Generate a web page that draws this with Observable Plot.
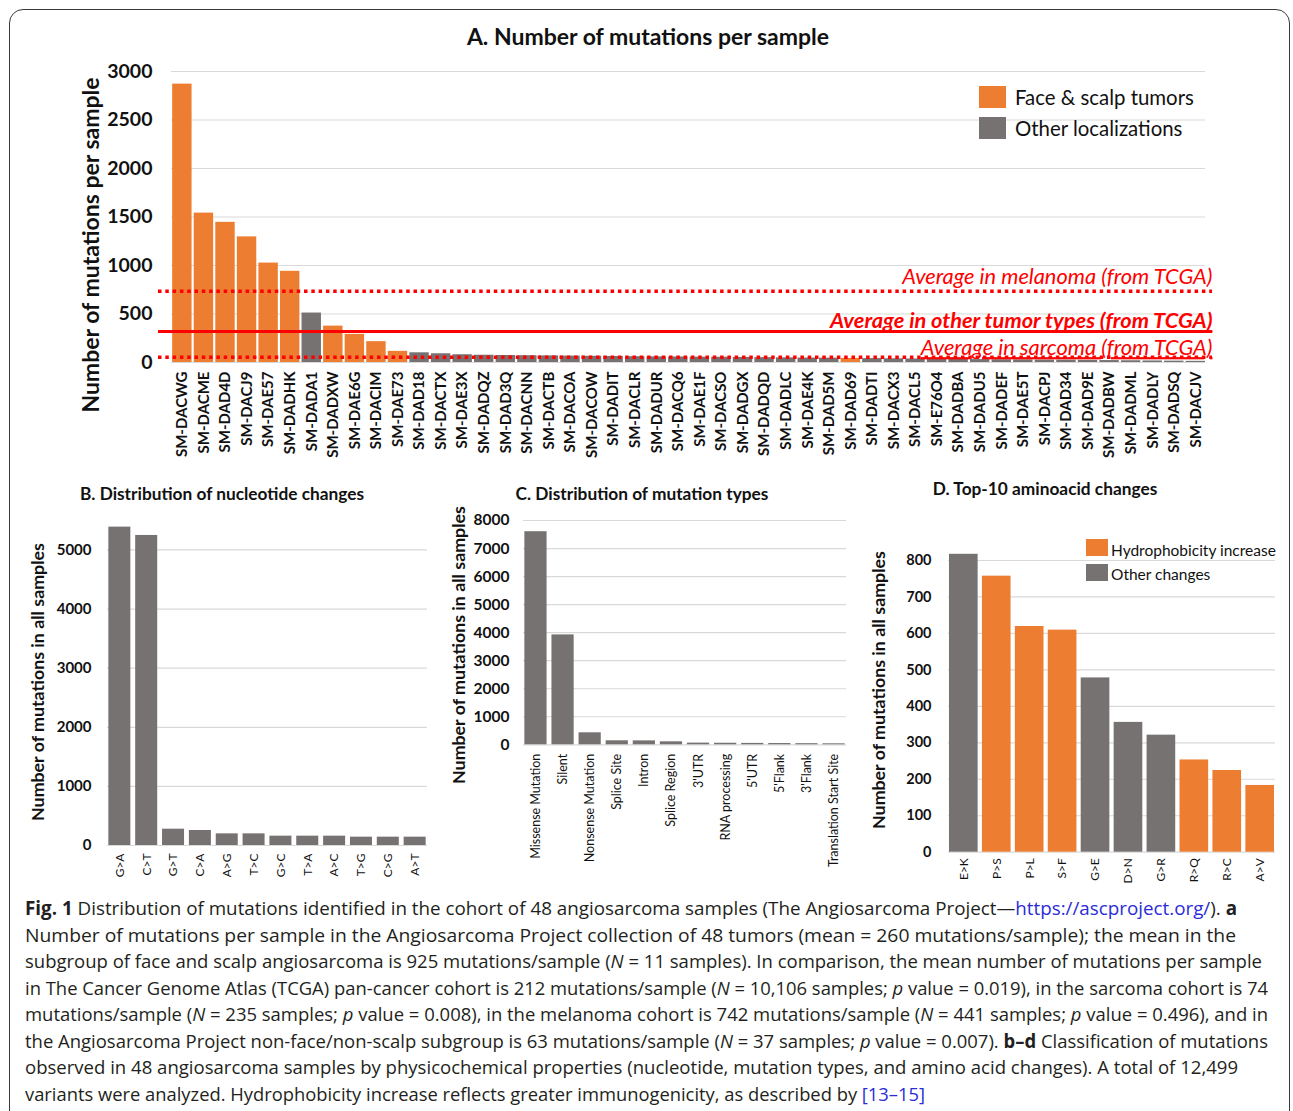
<!DOCTYPE html>
<html><head><meta charset="utf-8">
<script src="https://cdn.jsdelivr.net/npm/d3@7"></script>
<script src="https://cdn.jsdelivr.net/npm/@observablehq/plot@0.6"></script>
<style>
body{margin:0;background:#fff;}
#root{position:relative;width:1293px;height:1111px;overflow:hidden;font-family:Lato,"Open Sans",sans-serif;color:#111;}
.box{position:absolute;left:9px;top:9px;width:1279px;height:1200px;border:1.5px solid #3a3a3a;border-radius:14px;}
.plot{position:absolute;}
.title{position:absolute;font-weight:700;white-space:nowrap;transform:translate(-50%,-50%);}
.ylab{position:absolute;font-weight:700;white-space:nowrap;transform:translate(-50%,-50%) rotate(-90deg);}
.sw{position:absolute;}
.lt{position:absolute;white-space:nowrap;transform:translateY(-50%);}
#caption{position:absolute;left:25px;top:895px;font-family:"Open Sans",sans-serif;font-size:19px;line-height:26.5px;color:#231f20;}
#caption div{white-space:nowrap;height:26.5px;}
#caption span.fit{display:inline-block;transform-origin:0 50%;}
#caption a{color:#2b2bd9;text-decoration:none;}
</style></head>
<body><div id="root">
<div class="box"></div>
</div>
<script>
// ---------- DATA ----------
const samplesA = ["SM-DACWG","SM-DACME","SM-DAD4D","SM-DACJ9","SM-DAE57","SM-DADHK","SM-DADA1","SM-DADXW","SM-DAE6G","SM-DACIM","SM-DAE73","SM-DAD18","SM-DACTX","SM-DAE3X","SM-DADQZ","SM-DAD3Q","SM-DACNN","SM-DACTB","SM-DACOA","SM-DACOW","SM-DADIT","SM-DACLR","SM-DADUR","SM-DACQ6","SM-DAE1F","SM-DACSO","SM-DADGX","SM-DADQD","SM-DADLC","SM-DAE4K","SM-DAD5M","SM-DAD69","SM-DADTI","SM-DACX3","SM-DACL5","SM-E76O4","SM-DADBA","SM-DADU5","SM-DADEF","SM-DAE5T","SM-DACPJ","SM-DAD34","SM-DAD9E","SM-DADBW","SM-DADML","SM-DADLY","SM-DADSQ","SM-DACJV"];
const countsA = [2870,1540,1445,1295,1025,940,510,375,290,215,115,100,90,80,75,72,70,68,66,64,62,60,58,57,55,54,52,50,48,46,45,42,40,38,36,34,32,30,28,27,25,24,22,20,18,16,14,12];
const faceScalpSamples = ["SM-DACWG","SM-DACME","SM-DAD4D","SM-DACJ9","SM-DAE57","SM-DADHK","SM-DADXW","SM-DAE6G","SM-DACIM","SM-DAE73","SM-DAD69"];
const groupNamesA = ["Face & scalp tumors","Other localizations"];
const avgLabels = ["Average in melanoma (from TCGA)","Average in other tumor types (from TCGA)","Average in sarcoma (from TCGA)"];
const avgValues = [735, 320, 55];
const ticksA = [0,500,1000,1500,2000,2500,3000];

const nucleotides = ["G>A","C>T","G>T","C>A","A>G","T>C","G>C","T>A","A>C","T>G","C>G","A>T"];
const nucleotideCounts = [5386,5245,276,254,197,197,158,158,158,141,141,141];
const ticksB = [0,1000,2000,3000,4000,5000];

const mutTypes = ["Missense Mutation","Silent","Nonsense Mutation","Splice Site","Intron","Splice Region","3'UTR","RNA processing","5'UTR","5'Flank","3'Flank","Translation Start Site"];
const mutTypeCounts = [7600,3920,428,143,140,107,60,55,50,45,40,35];
const ticksC = [0,1000,2000,3000,4000,5000,6000,7000,8000];

const aaChanges = ["E>K","P>S","P>L","S>F","G>E","D>N","G>R","R>Q","R>C","A>V"];
const aaCounts = [817,757,619,609,478,356,321,253,224,183];
const groupNamesD = ["Hydrophobicity increase","Other changes"];
const aaGroup = ["Other changes","Hydrophobicity increase","Hydrophobicity increase","Hydrophobicity increase","Other changes","Other changes","Other changes","Hydrophobicity increase","Hydrophobicity increase","Hydrophobicity increase"];
const ticksD = [0,100,200,300,400,500,600,700,800];

// ---------- STYLE ----------
const ORANGE = "#ED7D31", GRAY = "#777272", GRID = "#d9d9d9", RED = "#ff0000";
const FONT = "Lato, 'Open Sans', sans-serif";
const root = document.getElementById("root");

function place(el, left, top){ el.classList.add("plot"); el.style.left = left+"px"; el.style.top = top+"px"; root.appendChild(el); }
function addText(cls, html, x, y, size){ const d=document.createElement("div"); d.className=cls; d.innerHTML=html; d.style.left=x+"px"; d.style.top=y+"px"; d.style.fontSize=size+"px"; root.appendChild(d); return d; }
function swatch(x,y,w,h,c){ const d=document.createElement("div"); d.className="sw"; Object.assign(d.style,{left:x+"px",top:y+"px",width:w+"px",height:h+"px",background:c}); root.appendChild(d); }

// ---------- PANEL A ----------
const dataA = samplesA.map((s,i)=>({sample:s, n:countsA[i], g: faceScalpSamples.includes(s) ? groupNamesA[0] : groupNamesA[1]}));
const avgData = avgLabels.map((l,i)=>({label:l, v:avgValues[i]}));
const A = Plot.plot({
  width:1230, height:470, marginLeft:158, marginRight:18, marginTop:71, marginBottom:108,
  style:{fontFamily:FONT, background:"transparent", overflow:"visible", color:"#111"},
  x:{domain:samplesA, round:false, paddingInner:0.1, paddingOuter:0.49, align:0.67, label:null},
  y:{domain:[0,3000], label:null},
  color:{domain:groupNamesA, range:[ORANGE,GRAY]},
  marks:[
    Plot.ruleY(ticksA, {stroke:GRID, strokeWidth:1.2, insetLeft:13, insetRight:7}),
    Plot.barY(dataA, {x:"sample", y:"n", fill:"g"}),
    Plot.ruleY([avgData[0]], {y:"v", stroke:RED, strokeWidth:3.5, strokeDasharray:"3.5 3.8"}),
    Plot.ruleY([avgData[1]], {y:"v", stroke:RED, strokeWidth:3}),
    Plot.ruleY([avgData[2]], {y:"v", stroke:RED, strokeWidth:3.5, strokeDasharray:"3.5 3.8"}),
    Plot.text([avgData[0]], {y:"v", text:"label", frameAnchor:"right", textAnchor:"end", dy:-14, fill:RED, fontSize:21.8, fontStyle:"italic"}),
    Plot.text([avgData[1]], {y:"v", text:"label", frameAnchor:"right", textAnchor:"end", dy:-10, fill:RED, fontSize:21.8, fontStyle:"italic", fontWeight:"bold"}),
    Plot.text([avgData[2]], {y:"v", text:"label", frameAnchor:"right", textAnchor:"end", dy:-9, fill:RED, fontSize:21.8, fontStyle:"italic"}),
    Plot.axisX({tickRotate:-90, tickSize:0, tickPadding:9, fontSize:15, fontWeight:"bold", label:null}),
    Plot.axisY({ticks:ticksA, tickFormat:"d", tickSize:0, tickPadding:6, fontSize:19.5, fontWeight:"bold", label:null})
  ]
});
place(A, 0, 0);
A.querySelectorAll("text").forEach(t=>{ if(t.textContent.startsWith("Average") && !t.textContent.includes("melanoma")) t.style.textDecoration="underline"; });
addText("title","A. Number of mutations per sample",648,36,23);
addText("ylab","Number of mutations per sample",90,245,23);
swatch(979,86,27,22,ORANGE); swatch(979,117,27,22,GRAY);
addText("lt",groupNamesA[0],1015,97,20.4); addText("lt",groupNamesA[1],1015,128,20.4);

// ---------- PANEL B ----------
const dataB = nucleotides.map((k,i)=>({k, n:nucleotideCounts[i]}));
const B = Plot.plot({
  width:440, height:390, marginLeft:107, marginRight:13, marginTop:25.8, marginBottom:45,
  style:{fontFamily:FONT, background:"transparent", overflow:"visible", color:"#111"},
  x:{domain:nucleotides, round:false, paddingInner:0.18, paddingOuter:0.05, label:null},
  y:{domain:[0,5400], label:null},
  marks:[
    Plot.ruleY(ticksB, {stroke:GRID, strokeWidth:1.2}),
    Plot.barY(dataB, {x:"k", y:"n", fill:GRAY}),
    Plot.axisX({tickRotate:-90, tickSize:0, tickPadding:8, fontSize:12, label:null}),
    Plot.axisY({ticks:ticksB, tickFormat:"d", tickSize:0, tickPadding:16, fontSize:15, fontWeight:"bold", label:null})
  ]
});
place(B, 0, 500);
addText("title","B. Distribution of nucleotide changes",222,493,17.3);
addText("ylab","Number of mutations in all samples",37,682,17.8);

// ---------- PANEL C ----------
const dataC = mutTypes.map((k,i)=>({k, n:mutTypeCounts[i]}));
const C = Plot.plot({
  width:420, height:390, marginLeft:83, marginRight:14, marginTop:20, marginBottom:145.7,
  style:{fontFamily:FONT, background:"transparent", overflow:"visible", color:"#111"},
  x:{domain:mutTypes, round:false, paddingInner:0.18, paddingOuter:0.05, label:null},
  y:{domain:[0,8000], label:null},
  marks:[
    Plot.ruleY(ticksC, {stroke:GRID, strokeWidth:1.2}),
    Plot.barY(dataC, {x:"k", y:"n", fill:GRAY}),
    Plot.axisX({tickRotate:-90, tickSize:0, tickPadding:9, fontSize:12.5, label:null}),
    Plot.axisY({ticks:ticksC, tickFormat:"d", tickSize:0, tickPadding:14, fontSize:15.5, fontWeight:"bold", label:null})
  ]
});
place(C, 440, 500);
addText("title","C. Distribution of mutation types",642,493,17.3);
addText("ylab","Number of mutations in all samples",458,645,17.8);

// ---------- PANEL D ----------
const dataD = aaChanges.map((k,i)=>({k, n:aaCounts[i], g:aaGroup[i]}));
const D = Plot.plot({
  width:433, height:390, marginLeft:88, marginRight:18, marginTop:52.7, marginBottom:38.3,
  style:{fontFamily:FONT, background:"transparent", overflow:"visible", color:"#111"},
  x:{domain:aaChanges, round:false, paddingInner:0.13, paddingOuter:0.03, label:null},
  y:{domain:[0,820], label:null},
  color:{domain:groupNamesD, range:[ORANGE,GRAY]},
  marks:[
    Plot.ruleY(ticksD, {stroke:GRID, strokeWidth:1.2}),
    Plot.barY(dataD, {x:"k", y:"n", fill:"g"}),
    Plot.axisX({tickRotate:-90, tickSize:0, tickPadding:6, fontSize:12, label:null}),
    Plot.axisY({ticks:ticksD, tickFormat:"d", tickSize:0, tickPadding:17, fontSize:14.5, fontWeight:"bold", label:null})
  ]
});
place(D, 860, 500);
addText("title","D. Top-10 aminoacid changes",1045,488,17.3);
addText("ylab","Number of mutations in all samples",878,690,17.8);
swatch(1086,539,22,17,ORANGE); swatch(1086,564,22,17,GRAY);
addText("lt",groupNamesD[0],1111,550,15.5); addText("lt",groupNamesD[1],1111,574,15.5);

// ---------- CAPTION ----------
const capLines = [
 '<b>Fig. 1</b> Distribution of mutations identified in the cohort of 48 angiosarcoma samples (The Angiosarcoma Project—<a>https://ascproject.org/</a>). <b>a</b>',
 'Number of mutations per sample in the Angiosarcoma Project collection of 48 tumors (mean = 260 mutations/sample); the mean in the',
 'subgroup of face and scalp angiosarcoma is 925 mutations/sample (<i>N</i> = 11 samples). In comparison, the mean number of mutations per sample',
 'in The Cancer Genome Atlas (TCGA) pan-cancer cohort is 212 mutations/sample (<i>N</i> = 10,106 samples; <i>p</i> value = 0.019), in the sarcoma cohort is 74',
 'mutations/sample (<i>N</i> = 235 samples; <i>p</i> value = 0.008), in the melanoma cohort is 742 mutations/sample (<i>N</i> = 441 samples; <i>p</i> value = 0.496), and in',
 'the Angiosarcoma Project non-face/non-scalp subgroup is 63 mutations/sample (<i>N</i> = 37 samples; <i>p</i> value = 0.007). <b>b–d</b> Classification of mutations',
 'observed in 48 angiosarcoma samples by physicochemical properties (nucleotide, mutation types, and amino acid changes). A total of 12,499',
 'variants were analyzed. Hydrophobicity increase reflects greater immunogenicity, as described by <a>[13–15]</a>'
];
const capWidths = [1212,1211,1237,1243,1243,1243,1213,900];
const cap = document.createElement("div"); cap.id="caption";
cap.innerHTML = capLines.map(l=>`<div><span class="fit">${l}</span></div>`).join("");
root.appendChild(cap);
function fitCaption(){
  cap.querySelectorAll("span.fit").forEach((sp,i)=>{
    sp.style.transform="none";
    const w = sp.getBoundingClientRect().width;
    sp.style.transform = `scaleX(${capWidths[i]/w})`;
  });
}
fitCaption();
if(document.fonts && document.fonts.ready) document.fonts.ready.then(fitCaption);
</script>
</body></html>
